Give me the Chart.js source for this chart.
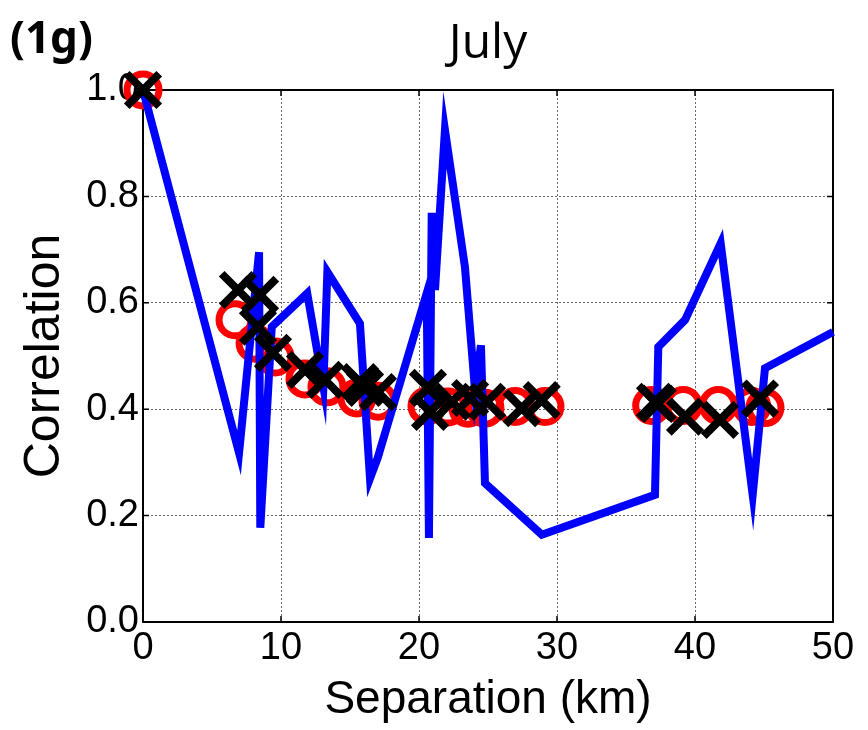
<!DOCTYPE html>
<html>
<head>
<meta charset="utf-8">
<script src="https://cdn.jsdelivr.net/npm/chart.js@4"></script>
<style>
  html, body { margin: 0; padding: 0; background: #fff; }
  #wrap { width: 868px; height: 730px; }
</style>
</head>
<body>
<div id="wrap"><canvas id="grafico" width="868" height="730"></canvas></div>
<script>
// Datos (separacion en km, correlacion)
const lineaX = [0, 6.96, 8.41, 8.5, 9.33, 11.9, 13.07, 13.36, 15.72, 16.45, 17.0, 20.56, 20.72, 20.92, 21.16, 21.88, 23.33, 24.06, 24.49, 24.78, 28.9, 37.1, 37.34, 39.28, 41.86, 44.18, 45.07, 50]
const lineaY = [1.0, 0.318, 0.695, 0.177, 0.555, 0.618, 0.442, 0.658, 0.561, 0.27, 0.308, 0.618, 0.158, 0.769, 0.624, 0.925, 0.667, 0.436, 0.52, 0.261, 0.164, 0.239, 0.517, 0.568, 0.712, 0.239, 0.477, 0.545]

const circulosX = [0, 6.67, 8.12, 9.57, 11.74, 13.33, 15.5, 17.03, 20.58, 22.1, 23.55, 24.78, 26.96, 29.13, 36.86, 39.15, 41.69, 44.11, 45.07]
const circulosY = [1.0, 0.568, 0.524, 0.498, 0.457, 0.442, 0.421, 0.415, 0.406, 0.404, 0.402, 0.402, 0.405, 0.405, 0.407, 0.407, 0.407, 0.405, 0.403]

const cruzesX = [0, 6.88, 8.48, 8.33, 9.42, 11.74, 13.19, 15.72, 16.09, 17.03, 20.65, 20.8, 22.4, 23.7, 24.93, 27.44, 28.89, 37.1, 37.3, 39.28, 41.81, 44.71]
const cruzesY = [1.0, 0.624, 0.615, 0.555, 0.506, 0.474, 0.455, 0.451, 0.44, 0.432, 0.44, 0.395, 0.414, 0.421, 0.414, 0.402, 0.417, 0.414, 0.41, 0.386, 0.38, 0.42]

const ticksX = [0, 10, 20, 30, 40, 50]
const ticksY = [0, 0.2, 0.4, 0.6, 0.8, 1.0]

const juntar = (xs, ys) => xs.map((x, i) => ({ x: x, y: ys[i] }))

// Plugin: caja negra, marcas internas estilo MATLAB y textos de encabezado
const cajaPlugin = {
    id: 'caja',
    beforeDatasetsDraw(chart) {
        const { ctx, chartArea: a, scales } = chart
        ctx.save()
        ctx.strokeStyle = '#000'
        ctx.lineWidth = 2
        ctx.strokeRect(a.left, a.top, a.right - a.left, a.bottom - a.top)
        ctx.lineWidth = 1.5
        ctx.beginPath()
        ticksX.forEach(v => {
            const px = scales.x.getPixelForValue(v)
            ctx.moveTo(px, a.bottom); ctx.lineTo(px, a.bottom - 6)
            ctx.moveTo(px, a.top); ctx.lineTo(px, a.top + 6)
        })
        ticksY.forEach(v => {
            const py = scales.y.getPixelForValue(v)
            ctx.moveTo(a.left, py); ctx.lineTo(a.left + 6, py)
            ctx.moveTo(a.right, py); ctx.lineTo(a.right - 6, py)
        })
        ctx.stroke()
        ctx.restore()
    },
    afterDraw(chart) {
        const { ctx, chartArea: a } = chart
        ctx.save()
        ctx.fillStyle = '#000'
        ctx.textBaseline = 'middle'
        ctx.textAlign = 'left'
        ctx.font = 'bold 44px "Noto Sans"'
        ctx.fillText('(1g)', 10, 40)
        ctx.textAlign = 'center'
        ctx.font = '48px "Open Sans"'
        ctx.fillText('July', (a.left + a.right) / 2, 44)
        ctx.restore()
    }
}

const ctx = document.getElementById('grafico').getContext('2d')
const miGrafico = new Chart(ctx, {
    type: 'scatter',
    data: {
        datasets: [{
            label: 'Correlacion',
            data: juntar(lineaX, lineaY),
            showLine: true,
            borderColor: '#0000ff',
            borderWidth: 8,
            pointRadius: 0,
            fill: false,
            tension: 0,
            order: 2,
            clip: false
        }, {
            label: 'Circulos',
            data: juntar(circulosX, circulosY),
            showLine: false,
            pointStyle: 'circle',
            pointRadius: 16,
            pointBorderWidth: 7,
            pointBorderColor: '#ff0000',
            pointBackgroundColor: 'rgba(0,0,0,0)',
            order: 3,
            clip: false
        }, {
            label: 'Cruces',
            data: juntar(cruzesX, cruzesY),
            showLine: false,
            pointStyle: 'crossRot',
            pointRadius: 23,
            pointBorderWidth: 8,
            pointBorderColor: '#000',
            order: 1,
            clip: false
        }]
    },
    options: {
        responsive: false,
        animation: false,
        events: [],
        layout: { padding: { top: 90, right: 35, left: 0, bottom: 0 } },
        plugins: {
            legend: { display: false },
            tooltip: { enabled: false }
        },
        scales: {
            x: {
                type: 'linear',
                min: 0,
                max: 50,
                afterBuildTicks: s => { s.ticks = ticksX.map(v => ({ value: v })) },
                afterFit: s => { s.height = 108 },
                ticks: {
                    color: '#000',
                    padding: 4,
                    font: { family: '"Liberation Sans"', size: 38 },
                    maxRotation: 0
                },
                grid: { color: '#666', lineWidth: 1, drawTicks: false },
                border: { display: false, dash: [2, 2] },
                title: {
                    display: true,
                    text: 'Separation (km)',
                    color: '#000',
                    font: { family: '"Liberation Sans"', size: 46, lineHeight: 1 },
                    padding: { top: 7, bottom: 7 }
                }
            },
            y: {
                type: 'linear',
                min: 0,
                max: 1,
                afterBuildTicks: s => { s.ticks = ticksY.map(v => ({ value: v })) },
                afterFit: s => { s.width = 143 },
                ticks: {
                    color: '#000',
                    padding: 4,
                    font: { family: '"Liberation Sans"', size: 38 },
                    callback: v => v.toFixed(1)
                },
                grid: { color: '#666', lineWidth: 1, drawTicks: false },
                border: { display: false, dash: [2, 2] },
                title: {
                    display: true,
                    text: 'Correlation',
                    color: '#000',
                    font: { family: '"Liberation Sans"', size: 50, lineHeight: 1 },
                    padding: { top: 20, bottom: 0 }
                }
            }
        }
    },
    plugins: [cajaPlugin]
})
</script>
</body>
</html>
